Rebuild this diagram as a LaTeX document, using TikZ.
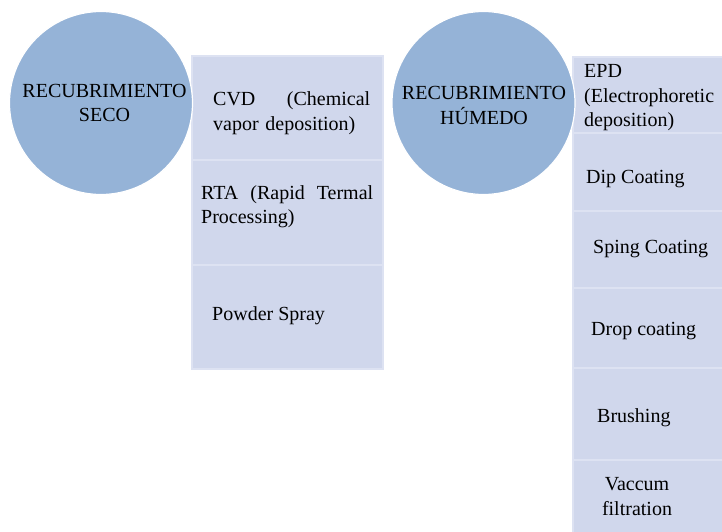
\documentclass[tikz,border=0pt]{standalone}
\usepackage{fontspec}
\setmainfont{Liberation Serif}

\definecolor{bubblecol}{RGB}{149,179,215}
\definecolor{cellcol}{RGB}{208,215,236}
\definecolor{rulecol}{RGB}{221,226,242}

\tikzset{
  bubble/.style={circle, fill=bubblecol, draw=white, line width=1.2pt,
    minimum size=183pt, inner sep=0pt},
  cell/.style={fill=cellcol, draw=rulecol, line width=1.5pt},
  txt/.style={font=\fontsize{20}{24.5}\selectfont, inner sep=0pt, align=left},
}

\begin{document}
\begin{tikzpicture}[x=1pt, y=-1pt]
  \useasboundingbox (0,0) rectangle (722,532);
  \clip (0,0) rectangle (722,532);

  % Les colonnes
  \foreach \ya/\yb in {56/160, 160/265, 265/369}
    \draw[cell] (192,\ya) rectangle (383,\yb);
  \foreach \ya/\yb in {57/133, 133/211, 211/288, 288/368, 368/460, 460/545}
    \draw[cell] (573,\ya) rectangle (735,\yb);

  % Les cercles
  \node[bubble] (seco) at (101,103) {};      % seco
  \node[bubble] (humedo) at (483.5,103) {};  % humedo
  \node[txt, align=center] (secotxt) at (104.5,103) {RECUBRIMIENTO\\SECO};
  \node[txt, align=center] (humedotxt) at (484,105.5) {RECUBRIMIENTO\\HÚMEDO};

  % Les textes
  \node[txt, text width=157pt, anchor=base west] (cvd) at (213,106)
    {CVD\hfill(Chemical\\vapor deposition)};
  \node[txt, text width=172pt, anchor=base west] (rta) at (201,199)
    {RTA\hfill(Rapid\hfill Termal\\Processing)};
  \node[txt, anchor=base west] (powder) at (212,320) {Powder Spray};
  \node[txt, anchor=base west] (epd) at (584,127)
    {EPD\\(Electrophoretic\\deposition)};
  \node[txt, anchor=base west] (dip) at (586,183) {Dip Coating};
  \node[txt, anchor=base west] (sping) at (593,253) {Sping Coating};
  \node[txt, anchor=base west] (drop) at (591,335) {Drop coating};
  \node[txt, anchor=base west] (brush) at (597,422) {Brushing};
  \node[txt, align=center, anchor=base] (vaccum) at (637,515)
    {Vaccum\\filtration};
\end{tikzpicture}
\end{document}
